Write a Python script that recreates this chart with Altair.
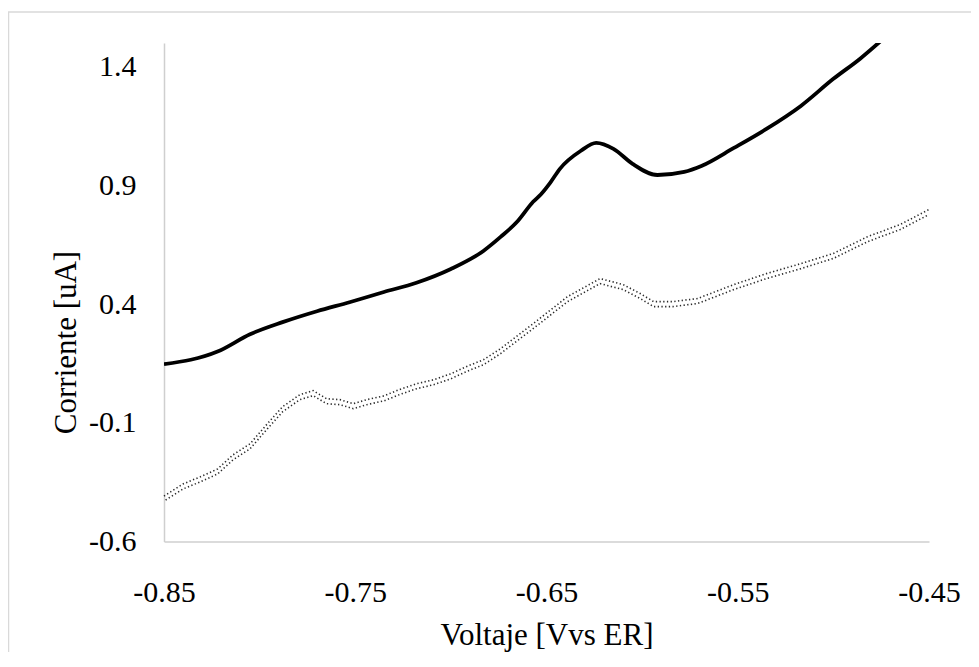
import pandas as pd
import altair as alt

# solid curve (upper trace)
solid_v = [-0.850, -0.822, -0.805, -0.788, -0.770, -0.753, -0.735, -0.718, -0.700,
           -0.683, -0.674, -0.665, -0.657, -0.653, -0.648, -0.643, -0.632, -0.624,
           -0.615, -0.605, -0.592, -0.578, -0.569, -0.552, -0.535, -0.517, -0.500,
           -0.486, -0.475]
solid_i = [0.147, 0.200, 0.273, 0.324, 0.370, 0.408, 0.451, 0.490, 0.548,
           0.624, 0.683, 0.750, 0.831, 0.862, 0.912, 0.970, 1.046, 1.079,
           1.054, 0.991, 0.944, 0.957, 0.982, 1.058, 1.138, 1.235, 1.349,
           1.434, 1.510]

# dotted curve (lower trace)
dotted_v = [-0.850, -0.840, -0.831, -0.822, -0.814, -0.805, -0.796, -0.788, -0.779,
            -0.772, -0.765, -0.758, -0.751, -0.744, -0.735, -0.727, -0.718, -0.709,
            -0.700, -0.692, -0.683, -0.674, -0.657, -0.639, -0.622, -0.610, -0.601,
            -0.594, -0.584, -0.571, -0.552, -0.535, -0.517, -0.500, -0.482, -0.465, -0.450]
dotted_i = [-0.419, -0.368, -0.338, -0.305, -0.246, -0.199, -0.115, -0.043, 0.008,
            0.025, -0.009, -0.013, -0.030, -0.013, 0.003, 0.029, 0.054, 0.071,
            0.096, 0.126, 0.155, 0.202, 0.307, 0.421, 0.497, 0.472, 0.434,
            0.400, 0.400, 0.413, 0.472, 0.518, 0.560, 0.603, 0.674, 0.725, 0.788]

x_ticks = [-0.85, -0.75, -0.65, -0.55, -0.45]
y_ticks = [-0.6, -0.1, 0.4, 0.9, 1.4]

FONT = "Liberation Serif"

solid_df = pd.DataFrame({"v": solid_v, "i": solid_i})
dotted_df = pd.DataFrame({"v": dotted_v, "i": dotted_i})

# plain hyphen for negatives, like the original
label_expr = "'' + datum.value"

x_enc = alt.X("v:Q", title="Voltaje [Vvs ER]",
              scale=alt.Scale(domain=[-0.85, -0.45], nice=False, zero=False),
              axis=alt.Axis(values=x_ticks, labelExpr=label_expr, grid=False, ticks=False,
                            tickSize=0, labelFlush=False, labelPadding=51,
                            labelBaseline="middle", labelFontSize=30, titleFontSize=31,
                            titleFontWeight="normal", titleY=94, titleBaseline="middle",
                            domainColor="#cfcfcf", domainWidth=1.5))
y_enc = alt.Y("i:Q", title="Corriente [uA]",
              scale=alt.Scale(domain=[-0.6, 1.5], nice=False, zero=False),
              axis=alt.Axis(values=y_ticks, labelExpr=label_expr, grid=False, ticks=False,
                            tickSize=0, labelFlush=False, labelPadding=28, labelFontSize=30,
                            titleFontSize=31, titleFontWeight="normal", titleX=-98, titleY=299,
                            titleBaseline="middle", domainColor="#cfcfcf", domainWidth=1.5))

frame = alt.Chart(pd.DataFrame({"a": [0]})).mark_rect(
    fill=None, stroke="#d9d9d9", strokeWidth=1.5
).encode(x=alt.value(-155.5), x2=alt.value(900), y=alt.value(-31), y2=alt.value(700))

solid = alt.Chart(solid_df).mark_line(
    color="black", strokeWidth=3.8, clip=True, interpolate="monotone"
).encode(x=x_enc, y=y_enc)

dotted_a = alt.Chart(dotted_df).mark_line(
    color="#2a2a2a", strokeWidth=1.6, strokeDash=[1.3, 2.4], yOffset=-2.5
).encode(x="v:Q", y="i:Q")
dotted_b = alt.Chart(dotted_df).mark_line(
    color="#2a2a2a", strokeWidth=1.6, strokeDash=[1.3, 2.4], yOffset=2.5, strokeDashOffset=1.8
).encode(x="v:Q", y="i:Q")

chart = alt.layer(frame, solid, dotted_a, dotted_b).properties(
    width=765,
    height=498.5,
    padding={"left": 156, "top": 35, "right": 42, "bottom": 110},
    autosize=alt.AutoSizeParams(type="none"),
).configure_view(stroke=None).configure_axis(
    labelFont=FONT, titleFont=FONT, labelColor="black", titleColor="black"
)

chart.save("out.html", embed_options={"renderer": "svg", "actions": False})
